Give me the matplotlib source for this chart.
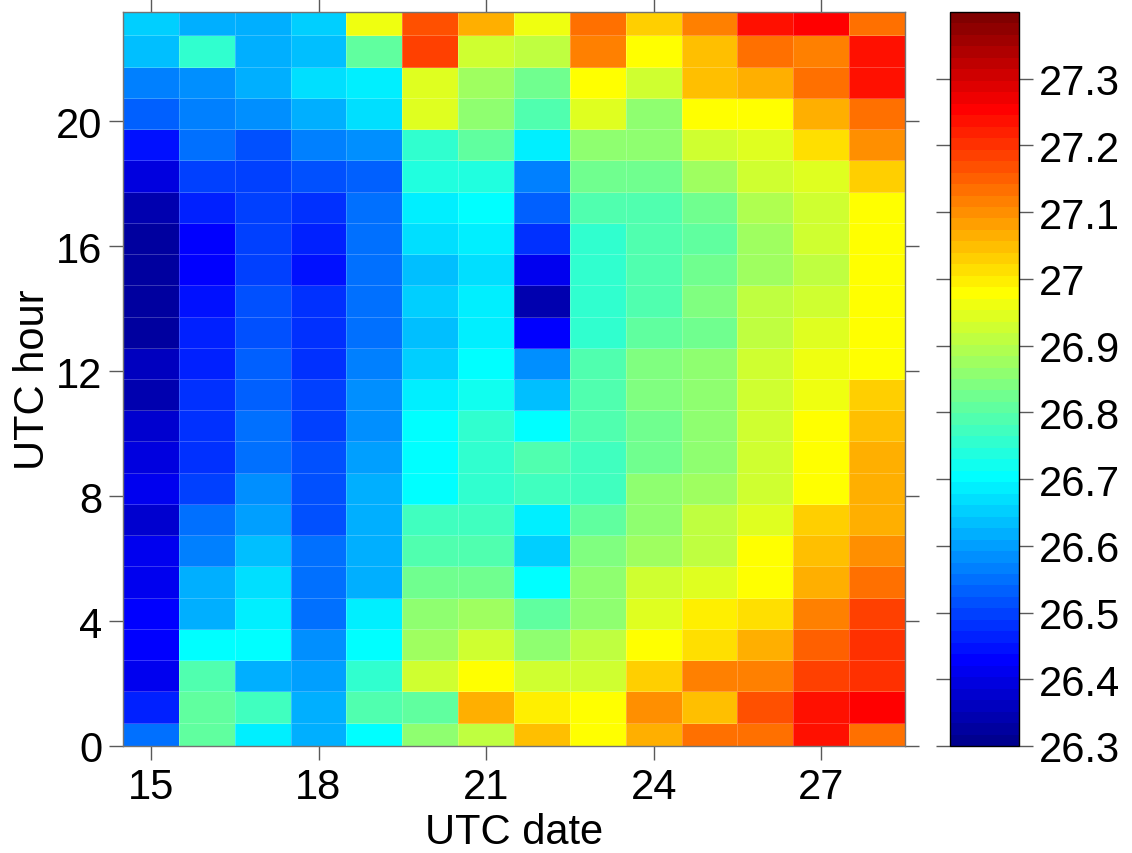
import numpy as np
import matplotlib
matplotlib.use("Agg")
import matplotlib.pyplot as plt
from matplotlib.colors import ListedColormap

plt.rcParams['font.family'] = ['Liberation Sans', 'DejaVu Sans']
plt.rcParams['font.size'] = 30

# UTC dates (columns) and hours (rows)
dates = np.arange(15, 29)
hours = np.arange(24)

# values per date, hour 0 -> 23
d15 = [26.55, 26.46, 26.42, 26.43, 26.43, 26.42, 26.41, 26.38, 26.41, 26.39, 26.38, 26.35,
       26.36, 26.33, 26.33, 26.33, 26.32, 26.35, 26.39, 26.44, 26.54, 26.57, 26.64, 26.66]
d16 = [26.80, 26.80, 26.79, 26.70, 26.62, 26.61, 26.56, 26.55, 26.49, 26.48, 26.48, 26.48,
       26.47, 26.47, 26.45, 26.43, 26.43, 26.46, 26.49, 26.55, 26.57, 26.59, 26.75, 26.62]
d17 = [26.68, 26.77, 26.62, 26.70, 26.68, 26.67, 26.64, 26.60, 26.59, 26.55, 26.55, 26.54,
       26.54, 26.52, 26.51, 26.49, 26.49, 26.50, 26.50, 26.51, 26.58, 26.61, 26.61, 26.61]
d18 = [26.61, 26.61, 26.60, 26.58, 26.55, 26.55, 26.55, 26.52, 26.51, 26.51, 26.50, 26.49,
       26.48, 26.48, 26.48, 26.45, 26.47, 26.48, 26.51, 26.56, 26.62, 26.67, 26.64, 26.66]
d19 = [26.70, 26.79, 26.75, 26.70, 26.68, 26.62, 26.62, 26.62, 26.62, 26.60, 26.59, 26.59,
       26.57, 26.55, 26.55, 26.55, 26.55, 26.55, 26.54, 26.58, 26.67, 26.69, 26.81, 26.97]
d20 = [26.86, 26.80, 26.93, 26.88, 26.85, 26.82, 26.79, 26.77, 26.70, 26.70, 26.70, 26.69,
       26.65, 26.63, 26.66, 26.64, 26.67, 26.68, 26.73, 26.75, 26.95, 26.95, 27.18, 27.17]
d21 = [26.91, 27.07, 26.98, 26.93, 26.88, 26.82, 26.79, 26.77, 26.75, 26.75, 26.75, 26.72,
       26.70, 26.69, 26.68, 26.67, 26.68, 26.70, 26.73, 26.80, 26.85, 26.87, 26.92, 27.07]
d22 = [27.05, 27.00, 26.93, 26.86, 26.80, 26.70, 26.66, 26.69, 26.77, 26.79, 26.70, 26.64,
       26.58, 26.43, 26.35, 26.42, 26.48, 26.54, 26.57, 26.68, 26.79, 26.83, 26.91, 26.97]
d23 = [26.98, 26.98, 26.93, 26.91, 26.86, 26.86, 26.84, 26.81, 26.77, 26.77, 26.79, 26.79,
       26.79, 26.75, 26.75, 26.75, 26.75, 26.79, 26.82, 26.86, 26.94, 26.98, 27.11, 27.14]
d24 = [27.06, 27.10, 27.03, 26.98, 26.94, 26.92, 26.87, 26.86, 26.86, 26.83, 26.83, 26.84,
       26.84, 26.81, 26.79, 26.79, 26.79, 26.79, 26.82, 26.86, 26.86, 26.92, 26.98, 27.03]
d25 = [27.14, 27.04, 27.11, 27.02, 27.00, 26.94, 26.91, 26.91, 26.87, 26.86, 26.86, 26.86,
       26.85, 26.83, 26.84, 26.82, 26.81, 26.83, 26.87, 26.93, 26.98, 27.05, 27.05, 27.11]
d26 = [27.14, 27.17, 27.11, 27.07, 27.02, 26.98, 26.98, 26.95, 26.93, 26.93, 26.93, 26.93,
       26.92, 26.91, 26.91, 26.88, 26.88, 26.89, 26.92, 26.94, 26.98, 27.06, 27.13, 27.23]
d27 = [27.23, 27.24, 27.18, 27.15, 27.11, 27.07, 27.05, 27.03, 26.98, 26.98, 26.98, 26.96,
       26.96, 26.94, 26.93, 26.91, 26.93, 26.93, 26.94, 27.01, 27.07, 27.14, 27.11, 27.25]
d28 = [27.14, 27.25, 27.21, 27.20, 27.19, 27.13, 27.10, 27.07, 27.07, 27.06, 27.04, 27.03,
       26.98, 26.98, 26.98, 26.98, 26.98, 26.98, 27.03, 27.10, 27.14, 27.23, 27.24, 27.14]

xticks = [15, 18, 21, 24, 27]
yticks = [0, 4, 8, 12, 16, 20]
cbar_ticks = [26.3, 26.4, 26.5, 26.6, 26.7, 26.8, 26.9, 27.0, 27.1, 27.2, 27.3]

grid = np.column_stack([d15, d16, d17, d18, d19, d20, d21, d22, d23, d24, d25, d26, d27, d28])

# MATLAB-style jet(64)
t = np.arange(1, 65) / 64.0
r = np.clip(np.minimum(4 * t - 1.5, -4 * t + 4.5), 0, 1)
g = np.clip(np.minimum(4 * t - 0.5, -4 * t + 3.5), 0, 1)
b = np.clip(np.minimum(4 * t + 0.5, -4 * t + 2.5), 0, 1)
jet64 = ListedColormap(np.column_stack([r, g, b]))

fig = plt.figure(figsize=(11.32, 8.54), dpi=100)
ax = fig.add_axes([123 / 1132, 107 / 854, 782 / 1132, 734 / 854])
cax = fig.add_axes([950 / 1132, 107 / 854, 69 / 1132, 734 / 854])

mesh = ax.pcolormesh(dates, hours + 0.25, grid, cmap=jet64, vmin=26.3, vmax=27.4,
                     shading='nearest', edgecolors=(1, 1, 1, 0.22), linewidth=0.6)
ax.set_xlim(14.5, 28.5)
ax.set_ylim(0, 23.5)
ax.set_xticks(xticks)
ax.set_yticks(yticks)
ax.tick_params(which='major', direction='out', length=10, width=1, color='0.35',
               top=True, right=True, pad=5)
for s in ax.spines.values():
    s.set_color('0.45')
    s.set_linewidth(1)
ax.set_xlabel('UTC date', labelpad=4)
ax.set_ylabel('UTC hour', labelpad=2)

cb = fig.colorbar(mesh, cax=cax, ticks=cbar_ticks, format='%g')
cb.outline.set_edgecolor('black')
cb.outline.set_linewidth(1)
cax.minorticks_off()
cax.tick_params(direction='out', length=10, width=1, color='0.35', left=True, right=True, pad=4)

fig.savefig('out.png', dpi=100)
